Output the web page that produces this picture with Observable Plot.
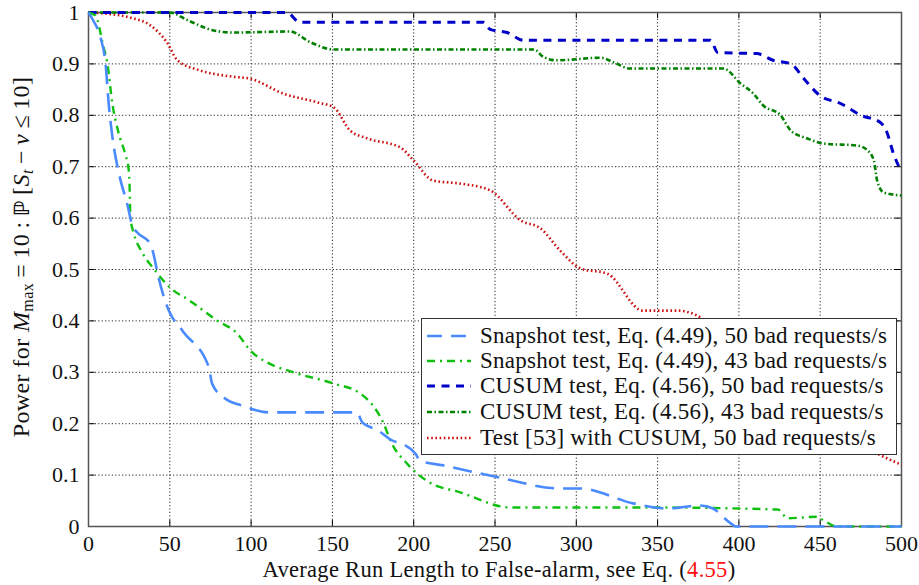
<!DOCTYPE html>
<html>
<head>
<meta charset="utf-8">
<script src="https://cdn.jsdelivr.net/npm/d3@7"></script>
<script src="https://cdn.jsdelivr.net/npm/@observablehq/plot@0.6"></script>
<style>
  html, body { margin: 0; padding: 0; background: #fff; }
  #wrap { position: relative; width: 919px; height: 585px; font-family: 'Liberation Serif', 'DejaVu Serif', serif; }
  #wrap svg text { font-family: 'Liberation Serif', 'DejaVu Serif', serif; }
  #legend { position: absolute; left: 421px; top: 318px; width: 474px; height: 135px;
    background: #fff; border: 1.5px solid #333; }
  .row { position: absolute; left: 0; height: 26px; display: flex; align-items: center; }
  .row svg { margin-left: 5px; margin-right: 9px; }
  .row span { font-family: 'Liberation Serif', 'DejaVu Serif', serif; font-size: 23px; letter-spacing: 0.25px; color: #111; white-space: nowrap; }
  .row span span { letter-spacing: inherit; }
  .red { color: #ff1010; }
  .pink { color: #e8148c; }
</style>
</head>
<body>
<div id="wrap"></div>
<script>
// ---- data ----
const xTicks = [0, 50, 100, 150, 200, 250, 300, 350, 400, 450, 500];
const yTicks = [0, 0.1, 0.2, 0.3, 0.4, 0.5, 0.6, 0.7, 0.8, 0.9, 1];

const snap50X = [0,3,7.4,10.5,12.5,14.6,18.5,24,27,30,38,40,42.4,46,49.4,58,74,76,84,94.7,110.7,165,168.5,178,187,193,201,204,218,253,290,302.6,335,356,376,384,395,398,500];
const snap50Y = [1,0.984,0.951,0.9,0.82,0.76,0.69,0.625,0.585,0.572,0.55,0.53,0.494,0.45,0.42,0.38,0.31,0.278,0.249,0.235,0.222,0.222,0.202,0.187,0.167,0.161,0.142,0.128,0.119,0.095,0.074,0.074,0.045,0.035,0.041,0.035,0.006,0,0];

const snap43X = [0,4.3,9,11.5,14.8,18.5,22.8,24.6,25.2,25.8,27.7,33,40,50,62,79,91.6,99.6,110,126,151,167,175,181.6,185.7,196,208,229,259.5,345,424,430,448,452,460.6,500];
const snap43Y = [1,0.994,0.936,0.903,0.82,0.766,0.722,0.697,0.67,0.6,0.572,0.533,0.502,0.465,0.44,0.401,0.375,0.342,0.319,0.3,0.278,0.259,0.235,0.2,0.167,0.122,0.089,0.066,0.037,0.037,0.033,0.016,0.019,0.012,0,0];

const cusum50X = [0,122,130,243,247,257.5,267.6,382.5,387,411,421,432,440,450,462.5,475,487,491,495,500];
const cusum50Y = [1,1,0.981,0.981,0.967,0.961,0.946,0.946,0.922,0.92,0.907,0.9,0.871,0.838,0.823,0.8,0.786,0.767,0.726,0.69];

const cusum43X = [0,50,61,77,89,124,136.5,151,274,280,288,315,323,333,390.5,401,409,415,425.6,432,442,452,473,479,483,485,489,500];
const cusum43Y = [1,1,0.985,0.965,0.961,0.963,0.942,0.928,0.928,0.913,0.907,0.912,0.903,0.891,0.891,0.862,0.842,0.819,0.8,0.77,0.755,0.745,0.741,0.732,0.712,0.673,0.65,0.644];

const test53X = [0,10,25.8,38,48.6,54.7,69,89,99.6,120,141,151,161,171.5,192,200,212,229,247,266,278,290,302.6,319,341,362,374.5,390,420,450,480,500];
const test53Y = [1,0.998,0.99,0.975,0.94,0.907,0.887,0.875,0.871,0.842,0.825,0.815,0.77,0.755,0.737,0.712,0.673,0.667,0.654,0.595,0.58,0.537,0.502,0.492,0.42,0.42,0.41,0.37,0.29,0.21,0.15,0.12];

const seriesNames = [
  "Snapshot test, Eq. (4.49), 50 bad requests/s",
  "Snapshot test, Eq. (4.49), 43 bad requests/s",
  "CUSUM test, Eq. (4.56), 50 bad requests/s",
  "CUSUM test, Eq. (4.56), 43 bad requests/s",
  "Test [53] with CUSUM, 50 bad requests/s"
];

// ---- styles ----
const styles = [
  {stroke: "#4a8aff", strokeWidth: 2.6, dash: "19,9"},
  {stroke: "#10c010", strokeWidth: 2.4, dash: "8,5,2,5"},
  {stroke: "#0000c8", strokeWidth: 3, dash: "8,6.5"},
  {stroke: "#008000", strokeWidth: 2.6, dash: "5,2.5,1.5,2.5"},
  {stroke: "#cc1010", strokeWidth: 2.6, dash: "1.6,2.6"}
];

const FONT = "'Liberation Serif', 'DejaVu Serif', serif";
const zip = (xs, ys) => xs.map((x, i) => ({x, y: ys[i]}));
const series = [zip(snap50X, snap50Y), zip(snap43X, snap43Y), zip(cusum50X, cusum50Y), zip(cusum43X, cusum43Y), zip(test53X, test53Y)];
const drawOrder = [4, 3, 2, 1, 0];

const chart = Plot.plot({
  width: 919,
  height: 585,
  marginLeft: 88,
  marginRight: 18,
  marginTop: 12,
  marginBottom: 59,
  style: {fontFamily: FONT, fontSize: "22px", color: "#111", background: "#fff"},
  x: {domain: [0, 500]},
  y: {domain: [0, 1]},
  marks: [
    Plot.gridX(xTicks.slice(1, -1), {stroke: "#000", strokeOpacity: 0.85, strokeDasharray: "1.2,2.2", strokeWidth: 1}),
    Plot.gridY(yTicks.slice(1, -1), {stroke: "#000", strokeOpacity: 0.85, strokeDasharray: "1.2,2.2", strokeWidth: 1}),
    Plot.ruleX(xTicks, {y1: 0, y2: 0.012, stroke: "#000"}),
    Plot.ruleX(xTicks, {y1: 1, y2: 0.988, stroke: "#000"}),
    Plot.ruleY(yTicks, {x1: 0, x2: 4, stroke: "#000"}),
    Plot.ruleY(yTicks, {x1: 500, x2: 496, stroke: "#000"}),
    Plot.frame({stroke: "#555", strokeWidth: 1.5}),
    ...drawOrder.map(i => Plot.line(series[i], {
      x: "x", y: "y", curve: "monotone-x",
      stroke: styles[i].stroke, strokeWidth: styles[i].strokeWidth,
      strokeDasharray: styles[i].dash, strokeLinecap: "butt"
    })),
    Plot.axisX(xTicks, {tickSize: 0, tickPadding: 9, label: null, fontSize: 22}),
    Plot.axisY(yTicks, {tickSize: 0, tickPadding: 9, label: null, fontSize: 22, tickFormat: d => String(d)})
  ]
});

const wrap = document.getElementById("wrap");
wrap.appendChild(chart);

// axis titles (real text)
const svg = d3.select(chart);
const xl = svg.append("text")
  .attr("x", 499).attr("y", 577)
  .attr("text-anchor", "middle")
  .style("font-family", FONT)
  .attr("font-size", 22.5).attr("letter-spacing", 0.3).attr("fill", "#111");
xl.append("tspan").text("Average Run Length to False-alarm, see Eq. (");
xl.append("tspan").attr("fill", "#ff1010").text("4.55");
xl.append("tspan").text(")");

const yl = svg.append("text")
  .attr("transform", "translate(29,257) rotate(-90)")
  .attr("text-anchor", "middle")
  .style("font-family", FONT)
  .attr("font-size", 24).attr("letter-spacing", 0.4).attr("fill", "#111");
yl.append("tspan").text("Power for ");
yl.append("tspan").attr("font-style", "italic").text("M");
yl.append("tspan").attr("font-size", 16).attr("dy", 4).text("max");
yl.append("tspan").attr("dy", -4).text("\u2009=\u200910\u2009:\u2009");
yl.append("tspan").style("font-family", "'DejaVu Sans', sans-serif").attr("font-size", 21).attr("font-weight", "bold").text("ℙ");
yl.append("tspan").text("\u2009[");
yl.append("tspan").attr("font-style", "italic").text("S");
yl.append("tspan").attr("font-style", "italic").attr("font-size", 16).attr("dy", 4).text("t");
yl.append("tspan").attr("dy", -4).text("\u2009−\u2009");
yl.append("tspan").attr("font-style", "italic").text("ν");
yl.append("tspan").text("\u2009≤\u200910]");

// legend overlay
const legend = document.createElement("div");
legend.id = "legend";
const rowTops = [4, 29, 54, 80, 106];
const labelHTML = [
  'Snapshot test, Eq. (<span class="red">4.49</span>), 50 bad requests/s',
  'Snapshot test, Eq. (<span class="red">4.49</span>), 43 bad requests/s',
  'CUSUM test, Eq. (<span class="red">4.56</span>), 50 bad requests/s',
  'CUSUM test, Eq. (<span class="red">4.56</span>), 43 bad requests/s',
  'Test [<span class="pink">53</span>] with CUSUM, 50 bad requests/s'
];
seriesNames.forEach((name, i) => {
  const row = document.createElement("div");
  row.className = "row";
  row.style.top = rowTops[i] + "px";
  const s = styles[i];
  row.innerHTML = `<svg width="44" height="10"><line x1="0" y1="5" x2="44" y2="5" stroke="${s.stroke}" stroke-width="${s.strokeWidth}" stroke-dasharray="${i === 0 ? '15,9' : s.dash}"/></svg><span title="${name}">${labelHTML[i]}</span>`;
  legend.appendChild(row);
});
wrap.appendChild(legend);
</script>
</body>
</html>
